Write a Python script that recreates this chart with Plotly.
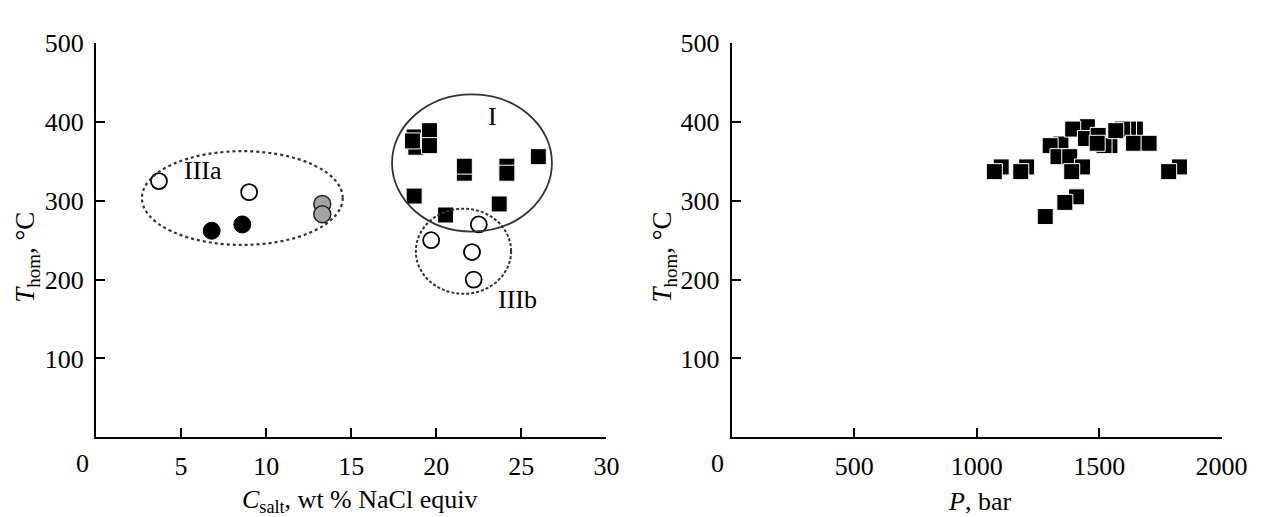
import plotly.graph_objects as go
from plotly.subplots import make_subplots

# ---- Left panel: homogenization temperature vs salinity ----
# group IIIa, open circles
iiia_open_c = [3.7, 9.0]
iiia_open_t = [325, 311]
# group IIIa, filled circles
iiia_fill_c = [6.8, 8.6]
iiia_fill_t = [262, 270]
# group IIIa, gray circles
iiia_gray_c = [13.3, 13.3]
iiia_gray_t = [296, 283]
# group IIIb, open circles
iiib_c = [22.5, 19.7, 22.1, 22.2]
iiib_t = [270, 250, 235, 200]
# group I, squares (listed back to front)
grp1_c = [18.7, 18.8, 18.6, 19.6, 19.6, 21.65, 21.65, 24.15, 24.15, 26.0, 18.7, 23.7, 20.55]
grp1_t = [381, 368, 376, 389, 370, 335, 344, 344, 335, 356, 306, 296, 282]

# ---- Right panel: homogenization temperature vs pressure ----
pres_p = [1100, 1072, 1204, 1180, 1408, 1360, 1280, 1344, 1300, 1332, 1380, 1432, 1388,
          1452, 1392, 1444, 1496, 1544, 1520, 1492, 1648, 1620, 1596, 1568, 1640, 1704,
          1828, 1784]
pres_t = [343, 337, 343, 337, 305, 298, 280, 372, 370, 356, 356, 343, 337,
          394, 391, 379, 383, 370, 370, 373, 391, 391, 391, 389, 373, 373,
          343, 337]

x_ticks_salt = [5, 10, 15, 20, 25, 30]
x_ticks_pres = [500, 1000, 1500, 2000]
y_ticks = [100, 200, 300, 400, 500]

SERIF = "Liberation Serif"
W, H = 1276, 517

fig = make_subplots(rows=1, cols=2)

open_marker = dict(symbol="circle", size=16, color="white", line=dict(color="black", width=1.8))
fig.add_trace(go.Scatter(x=iiia_open_c, y=iiia_open_t, mode="markers", marker=open_marker), 1, 1)
fig.add_trace(go.Scatter(x=iiia_fill_c, y=iiia_fill_t, mode="markers",
                         marker=dict(symbol="circle", size=17, color="black",
                                     line=dict(color="black", width=1))), 1, 1)
fig.add_trace(go.Scatter(x=iiia_gray_c, y=iiia_gray_t, mode="markers",
                         marker=dict(symbol="circle", size=17, color="#a3a3a3",
                                     line=dict(color="#222", width=1.5))), 1, 1)
fig.add_trace(go.Scatter(x=iiib_c, y=iiib_t, mode="markers", marker=open_marker), 1, 1)
square_marker = dict(symbol="square", size=16, color="black", line=dict(color="white", width=1))
fig.add_trace(go.Scatter(x=grp1_c, y=grp1_t, mode="markers", marker=square_marker), 1, 1)
fig.add_trace(go.Scatter(x=pres_p, y=pres_t, mode="markers", marker=square_marker), 1, 2)

axis_common = dict(showline=True, linecolor="black", linewidth=2, ticks="inside",
                   ticklen=9, tickwidth=2, tickcolor="black", showgrid=False,
                   zeroline=False, tickfont=dict(family=SERIF, size=26, color="black"))

fig.update_xaxes(range=[0, 30], tickvals=x_ticks_salt, domain=[98 / W, 619 / W],
                 ticklabelstandoff=5, **axis_common, row=1, col=1)
fig.update_xaxes(range=[0, 2000], tickvals=x_ticks_pres, domain=[747 / W, 1247 / W],
                 ticklabelstandoff=5, **axis_common, row=1, col=2)
for c in (1, 2):
    fig.update_yaxes(range=[0, 500], tickvals=y_ticks, domain=[1 - 435 / H, 1 - 30 / H],
                     ticklabelstandoff=5, **axis_common, row=1, col=c)

# cluster outlines
fig.add_shape(type="circle", xref="x", yref="y", x0=2.7, x1=14.5, y0=244, y1=363,
              line=dict(color="#333", width=2.2, dash="dot"))
fig.add_shape(type="circle", xref="x", yref="y", x0=17.4, x1=26.8, y0=261, y1=435,
              line=dict(color="#333", width=1.8))
fig.add_shape(type="circle", xref="x", yref="y", x0=18.8, x1=24.4, y0=182, y1=290,
              line=dict(color="#333", width=2, dash="3px,2px"))

label_font = dict(family=SERIF, size=26, color="black")
title_font_y = dict(family=SERIF, size=27, color="black")
notes = [
    dict(x=6.3, y=338, xref="x", yref="y", text="IIIa", font=label_font),
    dict(x=23.3, y=407, xref="x", yref="y", text="I", font=label_font),
    dict(x=24.8, y=175, xref="x", yref="y", text="IIIb", font=label_font),
    # origin labels
    dict(x=0, y=0, xref="x", yref="y", text="0", xshift=-14, yshift=-26, font=label_font),
    dict(x=0, y=0, xref="x2", yref="y2", text="0", xshift=-14, yshift=-26, font=label_font),
    # axis titles
    dict(x=367 / W, y=1 - 501 / H, xref="paper", yref="paper",
         text="<i>C</i><sub>salt</sub>, wt % NaCl equiv", font=label_font),
    dict(x=1000 / W, y=1 - 501 / H, xref="paper", yref="paper", text="<i>P</i>, bar",
         font=label_font),
    dict(x=28 / W, y=1 - 250 / H, xref="paper", yref="paper",
         text="<i>T</i><sub>hom</sub>, °C", textangle=-90, font=title_font_y),
    dict(x=678 / W, y=1 - 250 / H, xref="paper", yref="paper",
         text="<i>T</i><sub>hom</sub>, °C", textangle=-90, font=title_font_y),
]
for n in notes:
    fig.add_annotation(showarrow=False, xanchor="center", yanchor="middle", **n)

fig.update_layout(width=W, height=H, margin=dict(l=0, r=0, t=0, b=0),
                  paper_bgcolor="white", plot_bgcolor="white", showlegend=False)

fig.write_html("out.html")
